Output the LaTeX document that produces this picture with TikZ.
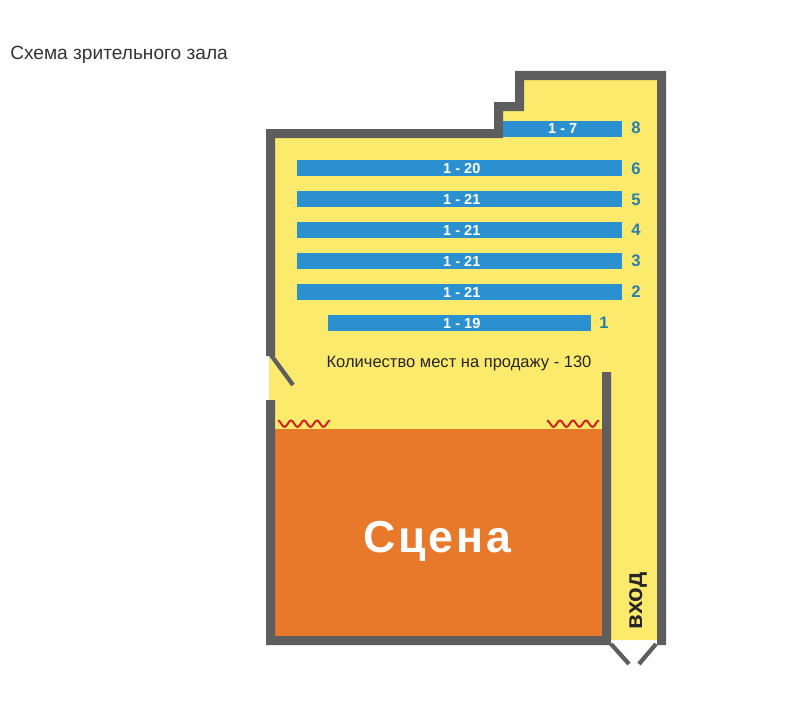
\documentclass[tikz,border=0pt]{standalone}
\usepackage{fontspec}
\setmainfont{Liberation Sans}
\definecolor{wallc}{HTML}{5E5E5E}
\definecolor{floorc}{HTML}{FBEA6C}
\definecolor{stagec}{HTML}{E9792A}
\definecolor{rowc}{HTML}{2B90D0}
\definecolor{numc}{HTML}{2A7FA8}
\definecolor{textc}{HTML}{333333}
\definecolor{wavec}{HTML}{D8201C}
\tikzset{
  x=0.75pt,y=-0.75pt,
  wall/.style={fill=wallc,draw=none},
  rowbar/.style={fill=rowc,text=white,font=\bfseries\fontsize{10.9pt}{12pt}\selectfont,inner sep=0pt,minimum height=12pt,anchor=west},
  rownum/.style={text=numc,font=\bfseries\fontsize{12.5pt}{14pt}\selectfont,inner sep=0pt},
  doorleaf/.style={draw=wallc,line width=3.2pt},
  wavy/.style={draw=wavec,line width=1.5pt,line join=round},
}
\begin{document}
\begin{tikzpicture}
\useasboundingbox (0,0) rectangle (809,717);
% floor
\fill[floorc] (269,138) -- (503,138) -- (503,111) -- (524,111) -- (524,80) -- (657,80) -- (657,640) -- (611,640) -- (611,429) -- (275,429) -- (275,400) -- (269,400) -- cycle;
\fill[floorc] (275,372) rectangle (611,429);
% stage
\fill[stagec] (275,429) rectangle (602,636);
% walls
\fill[wall] (266,129) -- (494,129) -- (494,102) -- (515,102) -- (515,71) -- (666,71) -- (666,645) -- (657,645) -- (657,80) -- (524,80) -- (524,111) -- (503,111) -- (503,138) -- (275,138) -- (275,356) -- (266,356) -- cycle;
\fill[wall] (266,400) -- (275,400) -- (275,636) -- (602,636) -- (602,372) -- (611,372) -- (611,645) -- (266,645) -- cycle;
% doors
\coordinate (d1a) at (271,355); \coordinate (d1b) at (293,385);
\draw[doorleaf] (d1a) -- (d1b);
\coordinate (d2a) at (611,644); \coordinate (d2b) at (629,664);
\coordinate (d3a) at (656,644); \coordinate (d3b) at (639,664);
\draw[doorleaf] (d2a) -- (d2b);
\draw[doorleaf] (d3a) -- (d3b);
% curtains
\draw[wavy] plot[smooth,samples=49,domain=0:4] ({278+13*\x},{423.7-3.2*cos(360*\x)});
\draw[wavy] plot[smooth,samples=49,domain=0:4] ({547+13*\x},{423.7-3.2*cos(360*\x)});
% rows
\node[rowbar,minimum width=89.25pt] (r8) at (503,129) {1 - 7};
\node[rowbar,minimum width=243.75pt] (r6) at (297,168) {\hspace*{3pt}1 - 20};
\node[rowbar,minimum width=243.75pt] (r5) at (297,199) {\hspace*{3pt}1 - 21};
\node[rowbar,minimum width=243.75pt] (r4) at (297,230) {\hspace*{3pt}1 - 21};
\node[rowbar,minimum width=243.75pt] (r3) at (297,261) {\hspace*{3pt}1 - 21};
\node[rowbar,minimum width=243.75pt] (r2) at (297,292) {\hspace*{3pt}1 - 21};
\node[rowbar,minimum width=197.25pt] (r1) at (328,323) {\hspace*{3pt}1 - 19};
\node[rownum] (n8) at (636,128) {8};
\node[rownum] (n6) at (636,169) {6};
\node[rownum] (n5) at (636,200) {5};
\node[rownum] (n4) at (636,230) {4};
\node[rownum] (n3) at (636,261) {3};
\node[rownum] (n2) at (636,292) {2};
\node[rownum] (n1) at (604,323) {1};
% labels
\node[text=textc,inner sep=0pt,anchor=west,font=\fontsize{14.35pt}{16pt}\selectfont] (title) at (10,54.5) {Схема зрительного зала};
\node[text=black!85,inner sep=0pt,font=\fontsize{12.4pt}{14pt}\selectfont] (count) at (459,363.5) {Количество мест на продажу - 130};
\node[text=white,inner sep=0pt,font=\bfseries\fontsize{33.5pt}{40pt}\selectfont\addfontfeatures{LetterSpace=6.5}] (stage) at (437,541) {Сцена};
\node[text=black!85,inner sep=0pt,rotate=90,anchor=base,font=\bfseries\fontsize{18pt}{20pt}\selectfont] (enter) at (642,601) {вход};
\end{tikzpicture}
\end{document}
